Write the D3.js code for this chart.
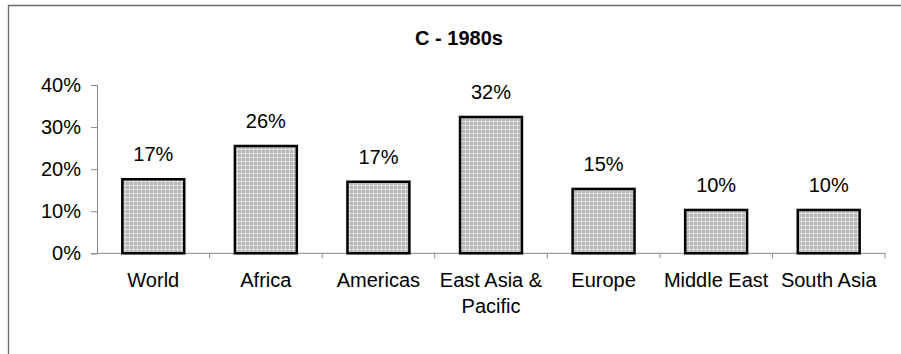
<!DOCTYPE html>
<html><head><meta charset="utf-8">
<script src="https://cdn.jsdelivr.net/npm/d3@7"></script>
<style>
html,body{margin:0;padding:0;background:#fff;}
svg{display:block;font-family:"Liberation Sans",Arial,sans-serif;}
</style></head>
<body>
<svg id="chart" width="901" height="354"></svg>
<script>
const title = "C - 1980s";
const categories = ["World", "Africa", "Americas", "East Asia & Pacific", "Europe", "Middle East", "South Asia"];
const categoryLines = [["World"], ["Africa"], ["Americas"], ["East Asia &", "Pacific"], ["Europe"], ["Middle East"], ["South Asia"]];
const values = [0.176, 0.255, 0.170, 0.324, 0.153, 0.103, 0.103];
const valueLabels = ["17%", "26%", "17%", "32%", "15%", "10%", "10%"];
const yTicks = [0, 0.1, 0.2, 0.3, 0.4];

const svg = d3.select("#chart");

// pattern fill
const defs = svg.append("defs");
const pat = defs.append("pattern").attr("id", "dots").attr("patternUnits", "userSpaceOnUse")
  .attr("width", 4).attr("height", 4);
pat.append("rect").attr("width", 4).attr("height", 4).attr("fill", "#b9b9b9");
pat.append("rect").attr("x", 0).attr("y", 1).attr("width", 4).attr("height", 1).attr("fill", "#d6d6d6");
pat.append("rect").attr("x", 1).attr("y", 0).attr("width", 1).attr("height", 4).attr("fill", "#d6d6d6");
pat.append("rect").attr("x", 1).attr("y", 1).attr("width", 1).attr("height", 1).attr("fill", "#ffffff");

// frame
svg.append("path").attr("d", "M8.5,360V5.5H910").attr("fill", "none").attr("stroke", "#6a6a6a").attr("stroke-width", 1.3);

const x = d3.scaleBand().domain(categories).range([97, 885]).paddingInner(0.45).paddingOuter(0.225);
const y = d3.scaleLinear().domain([0, 0.4]).range([253.3, 85]);

// title
svg.append("text").attr("x", 459).attr("y", 45).attr("text-anchor", "middle")
  .attr("font-size", 20).attr("font-weight", "bold").attr("fill", "#000").text(title);

// y axis
const yAxis = d3.axisLeft(y).tickValues(yTicks).tickFormat(d3.format(".0%")).tickSize(6).tickPadding(10);
const gy = svg.append("g").attr("transform", "translate(97,0)").call(yAxis);
gy.select(".domain").attr("stroke", "#888");
gy.selectAll(".tick line").attr("stroke", "#888");
gy.selectAll(".tick text").attr("font-size", 20).attr("fill", "#000").attr("font-family", "Liberation Sans, Arial, sans-serif");

// x axis line and ticks
const xBound = d3.scaleBand().domain(categories).range([97, 885]);
const gx = svg.append("g");
gx.append("line").attr("x1", 97).attr("x2", 885).attr("y1", y(0)).attr("y2", y(0)).attr("stroke", "#888");
gx.selectAll("line.tk").data(categories).join("line").attr("class", "tk")
  .attr("x1", d => xBound(d) + xBound.bandwidth()).attr("x2", d => xBound(d) + xBound.bandwidth())
  .attr("y1", y(0)).attr("y2", y(0) + 5).attr("stroke", "#888");

// bars
svg.append("g").selectAll("rect").data(values).join("rect")
  .attr("x", (d, i) => x(categories[i]))
  .attr("y", d => y(d))
  .attr("width", x.bandwidth())
  .attr("height", d => y(0) - y(d))
  .attr("fill", "url(#dots)").attr("stroke", "#000").attr("stroke-width", 2.5);

// value labels
svg.append("g").selectAll("text").data(values).join("text")
  .attr("x", (d, i) => x(categories[i]) + x.bandwidth() / 2)
  .attr("y", d => y(d) - 18)
  .attr("text-anchor", "middle").attr("font-size", 20).attr("fill", "#000")
  .text((d, i) => valueLabels[i]);

// category labels
const cl = svg.append("g").selectAll("text").data(categories).join("text")
  .attr("x", d => xBound(d) + xBound.bandwidth() / 2)
  .attr("y", 287).attr("text-anchor", "middle").attr("font-size", 20).attr("fill", "#000");
cl.each(function(d, i) {
  const t = d3.select(this);
  categoryLines[i].forEach((ln, j) => {
    t.append("tspan").attr("x", xBound(d) + xBound.bandwidth() / 2).attr("dy", j === 0 ? 0 : 26).text(ln);
  });
});
</script>
</body></html>
